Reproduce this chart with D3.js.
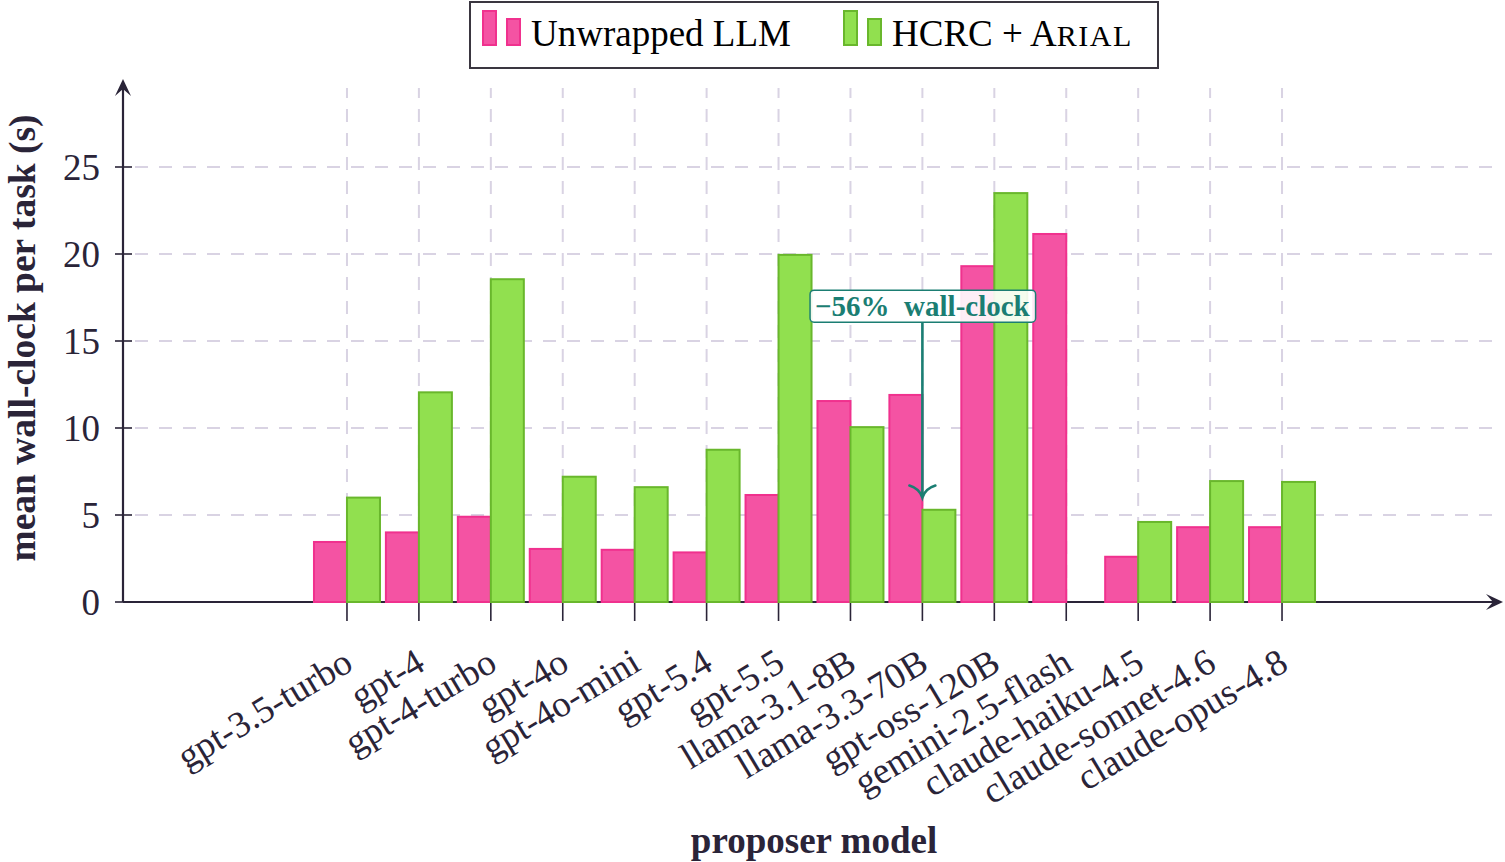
<!DOCTYPE html>
<html>
<head>
<meta charset="utf-8">
<script src="https://cdn.jsdelivr.net/npm/d3@7/dist/d3.min.js"></script>
<style>
body { margin: 0; background: #ffffff; }
text { font-family: "Liberation Serif", "Times New Roman", serif; }
</style>
</head>
<body>
<div id="canvas"></div>
<script>
"use strict"
let svgWidth = 1505;
let svgHeight = 862;

// chart values
let categories = ["gpt-3.5-turbo", "gpt-4", "gpt-4-turbo", "gpt-4o", "gpt-4o-mini",
    "gpt-5.4", "gpt-5.5", "llama-3.1-8B", "llama-3.3-70B", "gpt-oss-120B",
    "gemini-2.5-flash", "claude-haiku-4.5", "claude-sonnet-4.6", "claude-opus-4.8"];
let unwrappedValues = [3.45, 4.0, 4.9, 3.05, 3.0, 2.85, 6.15, 11.55, 11.9, 19.3, 21.15, 2.6, 4.3, 4.3];
let hcrcValues = [6.0, 12.05, 18.55, 7.2, 6.6, 8.75, 19.95, 10.05, 5.3, 23.5, null, 4.6, 6.95, 6.9];
let yTickValues = [0, 5, 10, 15, 20, 25];
let seriesNames = ["Unwrapped LLM", "HCRC + "];

// annotation: label sits at y=17 above llama-3.3-70B, arrow down to y=6
let noteCategory = "llama-3.3-70B";
let noteText = "\u221256%\u2002wall-clock";
let noteFrom = 17;
let noteTo = 6;

let axisLeft = 123;
let axisRight = 1503;
let axisBottom = 602;
let axisTop = 88;

let inkColor = "#2a2438";
let gridColor = "#d9d3e3";
let pinkFill = "#f453a3";
let pinkStroke = "#f0318e";
let greenFill = "#91e04f";
let greenStroke = "#69b72c";
let teal = "#1b7e73";

let svg = d3.select("#canvas")
    .append("svg")
    .attr("width", svgWidth)
    .attr("height", svgHeight);

let xScale = d3.scalePoint()
    .domain(categories)
    .range([124, 1505])
    .padding(3.1);

let yScale = d3.scaleLinear()
    .domain([0, 29.54])
    .range([axisBottom, axisTop]);

let barWidth = 33;

// grid lines
svg.append("g")
    .selectAll("line")
    .data(categories)
    .join("line")
    .attr("x1", d => xScale(d))
    .attr("x2", d => xScale(d))
    .attr("y1", axisBottom)
    .attr("y2", axisTop)
    .attr("stroke", gridColor)
    .attr("stroke-width", 2)
    .attr("stroke-dasharray", "13,11");

svg.append("g")
    .selectAll("line")
    .data(yTickValues.filter(v => v > 0))
    .join("line")
    .attr("x1", axisLeft)
    .attr("x2", axisRight)
    .attr("y1", d => yScale(d))
    .attr("y2", d => yScale(d))
    .attr("stroke", gridColor)
    .attr("stroke-width", 2)
    .attr("stroke-dasharray", "13,11")
    .attr("stroke-dashoffset", -12);

// axis lines with arrow heads
svg.append("line")
    .attr("x1", axisLeft).attr("y1", axisBottom)
    .attr("x2", axisRight - 6).attr("y2", axisBottom)
    .attr("stroke", inkColor).attr("stroke-width", 2.2);
svg.append("line")
    .attr("x1", axisLeft).attr("y1", axisBottom)
    .attr("x2", axisLeft).attr("y2", 86)
    .attr("stroke", inkColor).attr("stroke-width", 2.2);
svg.append("path")
    .attr("d", "M0,0 L-17,-8 L-10,0 L-17,8 Z")
    .attr("transform", `translate(${axisRight},${axisBottom})`)
    .attr("fill", inkColor);
svg.append("path")
    .attr("d", "M0,0 L-17,-8 L-10,0 L-17,8 Z")
    .attr("transform", `translate(${axisLeft},79) rotate(-90)`)
    .attr("fill", inkColor);

// y ticks and labels
for (let v of yTickValues) {
    svg.append("line")
        .attr("x1", axisLeft - 8).attr("x2", axisLeft + 9)
        .attr("y1", yScale(v)).attr("y2", yScale(v))
        .attr("stroke", inkColor).attr("stroke-width", 1.6);
    svg.append("text")
        .attr("x", 100)
        .attr("y", yScale(v) + 13)
        .attr("text-anchor", "end")
        .attr("font-size", 37)
        .attr("fill", inkColor)
        .text(v);
}

// x ticks and rotated labels
for (let c of categories) {
    let x = xScale(c);
    svg.append("line")
        .attr("x1", x).attr("x2", x)
        .attr("y1", axisBottom).attr("y2", axisBottom + 19)
        .attr("stroke", inkColor).attr("stroke-width", 1.6);
    svg.append("text")
        .attr("transform", `translate(${x + 8},669) rotate(-31)`)
        .attr("text-anchor", "end")
        .attr("font-size", 37)
        .attr("fill", inkColor)
        .text(c);
}

// bars
let barRows = [];
categories.forEach(function (c, i) {
    if (unwrappedValues[i] != null) barRows.push({ category: c, offset: -barWidth, value: unwrappedValues[i], fill: pinkFill, stroke: pinkStroke });
    if (hcrcValues[i] != null) barRows.push({ category: c, offset: 0, value: hcrcValues[i], fill: greenFill, stroke: greenStroke });
});

svg.append("g")
    .selectAll("rect")
    .data(barRows)
    .join("rect")
    .attr("x", d => xScale(d.category) + d.offset)
    .attr("y", d => yScale(d.value))
    .attr("width", barWidth)
    .attr("height", d => yScale(0) - yScale(d.value))
    .attr("fill", d => d.fill)
    .attr("stroke", d => d.stroke)
    .attr("stroke-width", 2);

// axis titles
svg.append("text")
    .attr("x", 814)
    .attr("y", 853)
    .attr("text-anchor", "middle")
    .attr("font-size", 37)
    .attr("font-weight", "bold")
    .attr("fill", inkColor)
    .text("proposer model");

svg.append("text")
    .attr("transform", "translate(35,338) rotate(-90)")
    .attr("text-anchor", "middle")
    .attr("font-size", 37.5)
    .attr("font-weight", "bold")
    .attr("fill", inkColor)
    .text("mean wall-clock per task (s)");

// annotation box and arrow
let noteX = xScale(noteCategory);
let noteGroup = svg.append("g");
let noteRect = noteGroup.append("rect");
let noteLabel = noteGroup.append("text")
    .attr("x", noteX)
    .attr("y", yScale(noteFrom) + 10)
    .attr("text-anchor", "middle")
    .attr("font-size", 29)
    .attr("font-weight", "bold")
    .attr("fill", teal)
    .text(noteText);
let box = noteLabel.node().getBBox();
let boxTop = yScale(noteFrom) - 16;
let boxBottom = yScale(noteFrom) + 16;
noteRect
    .attr("x", box.x - 5)
    .attr("y", boxTop)
    .attr("width", box.width + 10)
    .attr("height", boxBottom - boxTop)
    .attr("rx", 4)
    .attr("fill", "#ffffff")
    .attr("fill-opacity", 0.9)
    .attr("stroke", teal)
    .attr("stroke-width", 1.5);

svg.append("line")
    .attr("x1", noteX).attr("x2", noteX)
    .attr("y1", boxBottom).attr("y2", yScale(noteTo) - 1)
    .attr("stroke", teal).attr("stroke-width", 2.6);
svg.append("path")
    .attr("d", "M-13,-12 Q-3,-9 0,0 Q3,-9 13,-12")
    .attr("transform", `translate(${noteX},${yScale(noteTo)})`)
    .attr("fill", "none")
    .attr("stroke", teal)
    .attr("stroke-width", 2.6)
    .attr("stroke-linecap", "round");

// legend
let legend = svg.append("g");
legend.append("rect")
    .attr("x", 470).attr("y", 2)
    .attr("width", 688).attr("height", 66)
    .attr("fill", "#ffffff")
    .attr("stroke", "#3a3640")
    .attr("stroke-width", 2);

let legendItems = [
    { x: 482, fill: pinkFill, stroke: pinkStroke, label: seriesNames[0], smallCaps: "" },
    { x: 843, fill: greenFill, stroke: greenStroke, label: seriesNames[1], smallCaps: "A" }
];
for (let item of legendItems) {
    legend.append("rect")
        .attr("x", item.x + 1).attr("y", 11)
        .attr("width", 13).attr("height", 34)
        .attr("fill", item.fill).attr("stroke", item.stroke).attr("stroke-width", 2);
    legend.append("rect")
        .attr("x", item.x + 25).attr("y", 19)
        .attr("width", 13).attr("height", 26)
        .attr("fill", item.fill).attr("stroke", item.stroke).attr("stroke-width", 2);
    let t = legend.append("text")
        .attr("x", item.x + 49)
        .attr("y", 46)
        .attr("font-size", 37)
        .attr("fill", "#000000")
        .text(item.label);
    if (item.smallCaps) {
        t.append("tspan").text(item.smallCaps);
        t.append("tspan").attr("font-size", 30).attr("letter-spacing", 1.5).text("RIAL");
    }
}
</script>
</body>
</html>
